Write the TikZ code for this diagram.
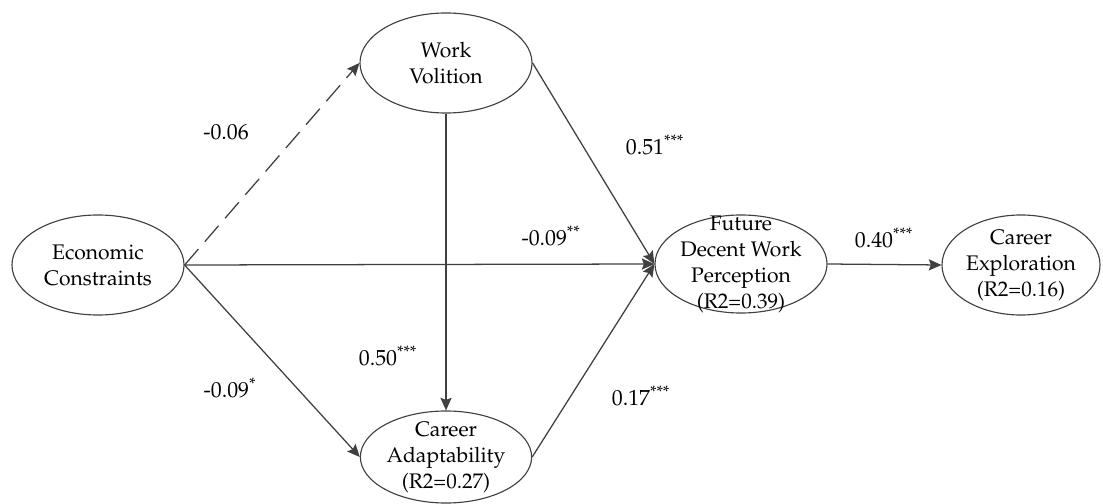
\documentclass[tikz,border=0pt]{standalone}
\usepackage[T1]{fontenc}
\usepackage{xcolor}
\usepackage{tikz}
\usepackage{mathpazo}
\usetikzlibrary{positioning, arrows.meta, shapes}
\definecolor{linegray}{HTML}{404040}

\begin{document}
\begin{tikzpicture}[
        x=0.025cm, y=-0.025cm,
        latent/.style={ellipse, draw=linegray, line width=0.8pt, inner sep=-15pt, align=center, font=\fontsize{15}{18.5}\selectfont},
        link/.style={draw=linegray, line width=0.9pt, -{Stealth[length=9pt, width=8pt, inset=1.5pt]}},
        coef/.style={font=\fontsize{15.5}{18.5}\selectfont}
    ]
    \useasboundingbox (0,0) rectangle (1103,504);

    \node[latent, minimum width=4.3cm, minimum height=2.5cm] (econ) at (98, 265) {Economic\\Constraints};
    \node[latent, minimum width=4.3cm, minimum height=2.5cm] (wv) at (446, 63) {Work\\Volition};
    \node[latent, minimum width=4.28cm, minimum height=2.3cm] (ca) at (446, 457) {Career\\Adaptability\\(R2=0.27)};
    \node[latent, minimum width=4.3cm, minimum height=2.45cm] (fdwp) at (741, 264) {Future\\Decent Work\\Perception\\(R2=0.39)};
    \node[latent, minimum width=3.95cm, minimum height=2.5cm] (ce) at (1021, 265) {Career\\Exploration\\(R2=0.16)};

    \draw[link, dash pattern=on 15pt off 7pt] (econ.east) -- (wv.west);
    \foreach \from/\to in {econ.east/fdwp.west, econ.east/ca.west, wv.south/ca.north, wv.east/fdwp.west, ca.east/fdwp.west, fdwp.east/ce.west} {
        \draw[link] (\from) -- (\to);
    }

    \foreach \name/\x/\y/\val in {
            lecwv/226/132/{-0.06},
            lwvfd/655/145/{0.51\textsuperscript{***}},
            lecfd/551/236/{-0.09\textsuperscript{**}},
            lfdce/884/238/{0.40\textsuperscript{***}},
            lwvca/388/356/{0.50\textsuperscript{***}},
            lecca/230/388/{-0.09\textsuperscript{*}},
            lcafd/641/396/{0.17\textsuperscript{***}}} {
        \node[coef] (\name) at (\x, \y) {\val};
    }
\end{tikzpicture}
\end{document}
